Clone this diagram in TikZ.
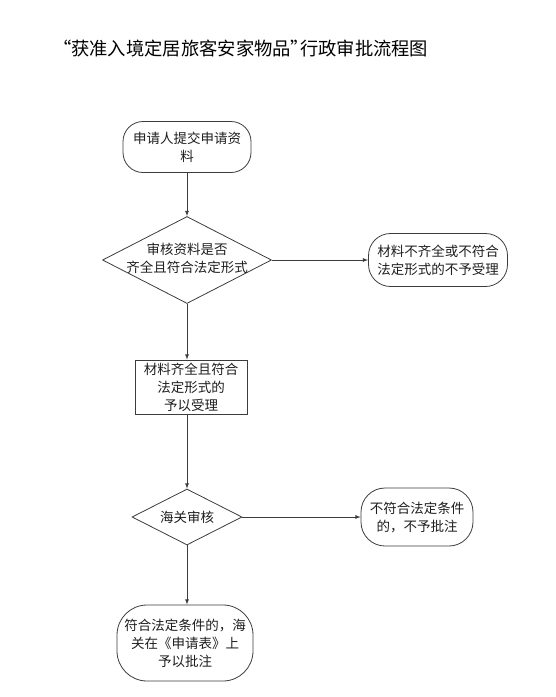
\documentclass[tikz,border=0pt]{standalone}
\usepackage{fontspec}
\newfontfamily\cjk{Noto Sans CJK SC}
\usepackage{xcolor}
\definecolor{LineGray}{RGB}{60,60,60}
\definecolor{InkBlack}{RGB}{30,30,30}
\usetikzlibrary{shapes.geometric}

\newcommand{\openq}{\makebox[0.5em][r]{“}}
\newcommand{\closeq}{\makebox[0.5em][l]{”}}

\begin{document}
\begin{tikzpicture}[
    x=1pt, y=-1pt,
    titlebox/.style={
        anchor=west, inner sep=0pt,
        font=\cjk\fontsize{18.3}{20}\selectfont, text=black
    },
    terminal/.style={
        draw=LineGray, line width=0.8pt, rounded corners=20pt,
        inner sep=0pt, align=center, text=InkBlack,
        font=\cjk\fontsize{13.5}{18}\selectfont
    },
    stepbox/.style={
        draw=LineGray, line width=0.8pt,
        inner sep=0pt, align=center, text=InkBlack,
        font=\cjk\fontsize{13.5}{18}\selectfont
    },
    decision/.style={
        diamond, draw=LineGray, line width=0.8pt,
        inner sep=0pt, text=InkBlack,
        font=\cjk\fontsize{13.5}{18}\selectfont
    },
    msg/.style={
        ->, >=latex, line width=0.8pt, draw=LineGray
    }
]

\useasboundingbox (0,0) rectangle (556,697);

% ====== TITRE ======
\node[titlebox] (title) at (62,48) {\openq 获准入境定居旅客安家物品\closeq 行政审批流程图};

% ====== NOEUDS (colonne principale) ======
\node[terminal, minimum width=128pt, minimum height=51pt] (submit) at (187,147)
    {申请人提交申请资\\料};
\node[decision, minimum width=169pt, minimum height=87pt] (check) at (187,260)
    {\makebox[0pt]{\begin{tabular}{@{}c@{}}审核资料是否\\齐全且符合法定形式\end{tabular}}};
\node[stepbox, minimum width=112pt, minimum height=54pt] (accept) at (191,387)
    {材料齐全且符合\\法定形式的\\予以受理};
\node[decision, minimum width=110pt, minimum height=56pt] (review) at (187,517)
    {\makebox[0pt]{海关审核}};
\node[terminal, rounded corners=30pt, minimum width=136pt, minimum height=76pt] (approve) at (185,643)
    {符合法定条件的，海\\关在《申请表》上\\予以批注};

% ====== NOEUDS (refus) ======
\node[terminal, rounded corners=22pt, minimum width=139pt, minimum height=53pt] (reject) at (438,260)
    {材料不齐全或不符合\\法定形式的不予受理};
\node[terminal, rounded corners=24pt, minimum width=112pt, minimum height=58pt] (deny) at (417,517)
    {不符合法定条件\\的，不予批注};

% ====== FLECHES ======
\draw[msg] (submit.south) -- (check.north);
\draw[msg] (check.east) -- (reject.west);
\draw[msg] (check.south) -- (check.south |- accept.north);
\draw[msg] (accept.south -| review.north) -- (review.north);
\draw[msg] (review.east) -- (deny.west);
\draw[msg] (review.south) -- (review.south |- approve.north);

\end{tikzpicture}
\end{document}
